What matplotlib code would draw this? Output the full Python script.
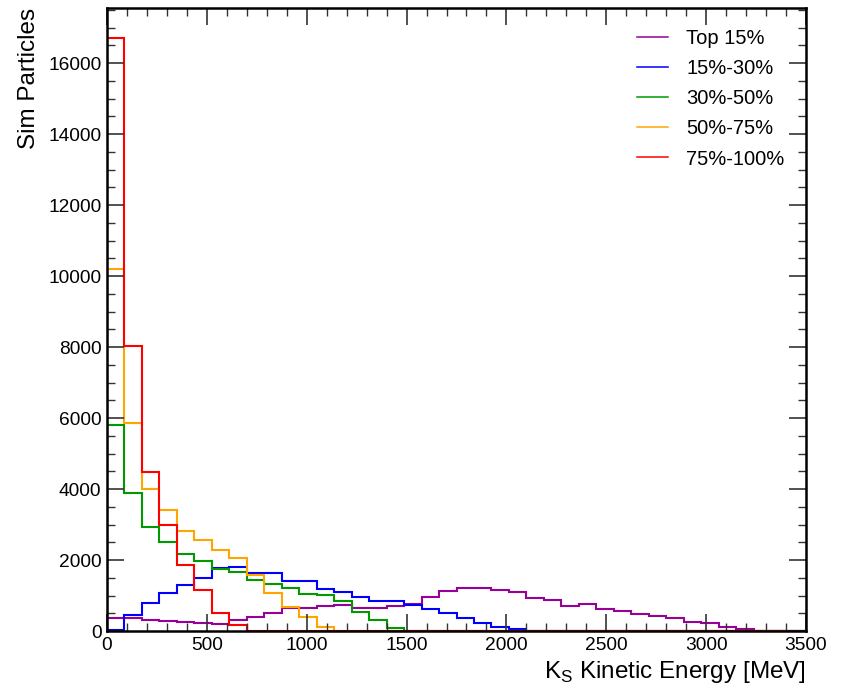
import numpy as np
import matplotlib
matplotlib.use("Agg")
import matplotlib.pyplot as plt
from matplotlib.ticker import MultipleLocator

plt.rcParams['font.family'] = ['Liberation Sans', 'DejaVu Sans']
plt.rcParams['mathtext.fontset'] = 'custom'
plt.rcParams['mathtext.rm'] = 'Liberation Sans'

# 40 bins, 0 - 3500 MeV
bin_edges = np.linspace(0, 3500, 41)

labels = ['Top 15%', '15%-30%', '30%-50%', '50%-75%', '75%-100%']
colors = ['#990099', '#0000ff', '#009900', '#ffa500', '#ff0000']

top15 = [380, 380, 300, 290, 260, 225, 190, 320, 400, 510,
         650, 660, 710, 720, 650, 650, 700, 750, 960, 1120,
         1200, 1200, 1155, 1090, 920, 875, 705, 750, 620, 565,
         470, 430, 355, 260, 215, 120, 45, 0, 0, 0]
p15_30 = [40, 450, 800, 1060, 1300, 1500, 1770, 1800, 1630, 1630,
          1400, 1400, 1180, 1110, 965, 850, 850, 740, 620, 510,
          360, 215, 120, 45, 0, 0, 0, 0, 0, 0,
          0, 0, 0, 0, 0, 0, 0, 0, 0, 0]
p30_50 = [5800, 3900, 2920, 2505, 2160, 1970, 1745, 1665, 1450, 1310,
          1210, 1035, 1005, 835, 530, 310, 80, 0, 0, 0,
          0, 0, 0, 0, 0, 0, 0, 0, 0, 0,
          0, 0, 0, 0, 0, 0, 0, 0, 0, 0]
p50_75 = [10200, 5850, 4000, 3400, 2825, 2570, 2290, 2070, 1570, 1065,
          690, 400, 120, 0, 0, 0, 0, 0, 0, 0,
          0, 0, 0, 0, 0, 0, 0, 0, 0, 0,
          0, 0, 0, 0, 0, 0, 0, 0, 0, 0]
p75_100 = [16700, 8020, 4470, 2990, 1850, 1155, 500, 160, 0, 0,
           0, 0, 0, 0, 0, 0, 0, 0, 0, 0,
           0, 0, 0, 0, 0, 0, 0, 0, 0, 0,
           0, 0, 0, 0, 0, 0, 0, 0, 0, 0]

series = [top15, p15_30, p30_50, p50_75, p75_100]

fig = plt.figure(figsize=(8.43, 6.90), dpi=100)
ax = fig.add_axes([107/843, 1 - 631/690, (806 - 107)/843, (631 - 8)/690])

for vals, lab, col in zip(series, labels, colors):
    ax.stairs(vals, bin_edges, color=col, lw=1.5, label=lab)

ax.set_xlim(0, 3500)
ax.set_ylim(0, 17550)

ax.xaxis.set_major_locator(MultipleLocator(500))
ax.xaxis.set_minor_locator(MultipleLocator(100))
ax.yaxis.set_major_locator(MultipleLocator(2000))
ax.yaxis.set_minor_locator(MultipleLocator(500))
ax.tick_params(which='both', direction='in', top=True, right=True,
               labelsize=13.8, color='#333333')
ax.tick_params(which='major', length=12, width=1.2, pad=4)
ax.tick_params(which='minor', length=6, width=1.0)
for sp in ax.spines.values():
    sp.set_linewidth(1.8)

ax.set_xlabel(r'K$_\mathrm{S}$ Kinetic Energy [MeV]', fontsize=17.5, loc='right', labelpad=4)
ax.set_ylabel('Sim Particles', fontsize=17.5, loc='top', labelpad=6)

leg = ax.legend(loc='upper right', frameon=False, fontsize=14.5,
                bbox_to_anchor=(0.995, 0.995), handlelength=1.55,
                handletextpad=0.9, labelspacing=0.55)
for h in leg.legend_handles:
    h.set_linewidth(1.1)

fig.savefig('out.png', dpi=100)
